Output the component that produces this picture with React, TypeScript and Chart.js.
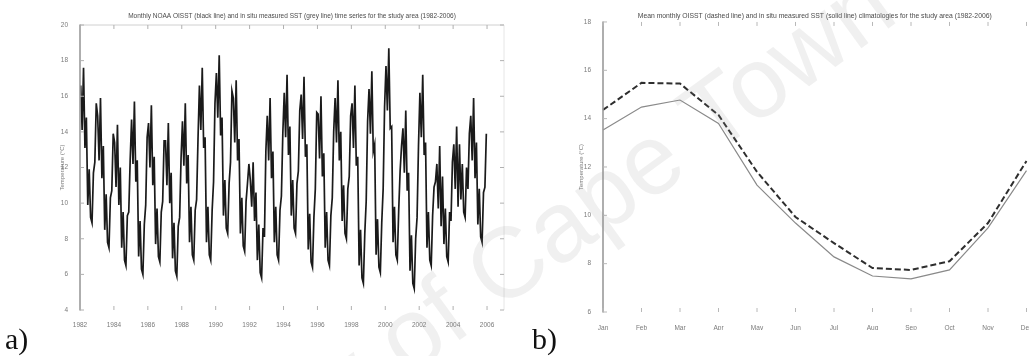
import React, { useEffect, useRef } from "react";
import { Chart, registerables } from "chart.js";
Chart.register(...registerables);

// ---------- DATA ----------
const seriesStartYear = 1982;
// Monthly SST (°C), Jan 1982 .. Dec 2005, one row per year
const oisstMonthly: number[] = [
  16.6, 14.1, 17.6, 13.1, 14.8, 9.9, 11.9, 9.2, 8.9, 11.7, 12.3, 15.6, // 1982
  14.9, 12.4, 15.9, 11.4, 13.2, 8.5, 10.5, 7.8, 7.5, 10.3, 10.7, 13.9, // 1983
  13.4, 10.9, 14.4, 9.9, 12.0, 7.5, 9.5, 6.8, 6.5, 9.3, 9.5, 12.4, // 1984
  14.7, 12.2, 15.7, 11.2, 12.4, 7.0, 9.0, 6.3, 6.0, 8.8, 9.9, 13.7, // 1985
  14.5, 12.0, 15.5, 11.0, 12.6, 7.7, 9.7, 7.0, 6.7, 9.5, 10.1, 13.5, // 1986
  13.5, 11.0, 14.5, 10.0, 11.7, 6.9, 8.9, 6.2, 5.9, 8.7, 9.2, 12.5, // 1987
  14.6, 12.1, 15.6, 11.1, 12.7, 7.8, 9.8, 7.1, 6.8, 9.6, 10.2, 13.6, // 1988
  16.6, 14.1, 17.6, 13.1, 13.7, 7.8, 9.8, 7.1, 6.8, 9.6, 11.2, 15.6, // 1989
  17.3, 14.8, 18.3, 13.8, 14.8, 9.3, 11.3, 8.6, 8.3, 11.1, 12.3, 16.3, // 1990
  15.9, 13.4, 16.9, 12.4, 13.6, 8.3, 10.3, 7.6, 7.3, 10.1, 11.1, 12.2, // 1991
  11.3, 9.8, 12.3, 9.0, 10.6, 6.8, 8.8, 6.1, 5.8, 8.6, 8.1, 12.9, // 1992
  14.9, 12.4, 15.9, 11.4, 12.9, 7.8, 9.8, 7.1, 6.8, 9.6, 10.4, 13.9, // 1993
  16.2, 13.7, 17.2, 12.7, 14.3, 9.3, 11.3, 8.6, 8.3, 11.1, 11.8, 15.2, // 1994
  16.1, 13.6, 17.1, 12.6, 13.3, 7.4, 9.4, 6.7, 6.4, 9.2, 10.8, 15.1, // 1995
  15.0, 12.5, 16.0, 11.5, 12.8, 7.5, 9.5, 6.8, 6.5, 9.3, 10.3, 14.0, // 1996
  15.9, 13.4, 16.9, 12.4, 14.0, 9.0, 11.0, 8.3, 8.0, 10.8, 11.5, 14.9, // 1997
  15.6, 13.1, 16.6, 12.1, 12.6, 6.5, 8.5, 5.8, 5.5, 8.3, 10.1, 14.6, // 1998
  16.4, 13.9, 17.4, 12.9, 13.3, 7.1, 9.1, 6.4, 6.1, 8.9, 10.8, 15.4, // 1999
  17.7, 15.2, 18.7, 14.2, 14.3, 7.8, 9.8, 7.1, 6.8, 9.6, 11.8, 13.2, // 2000
  14.2, 11.7, 15.2, 10.7, 11.7, 6.2, 8.2, 5.5, 5.2, 8.0, 9.2, 13.2, // 2001
  16.2, 13.7, 17.2, 12.7, 13.4, 7.5, 9.5, 6.8, 6.5, 9.3, 10.9, 11.2, // 2002
  12.2, 9.7, 13.2, 8.7, 11.5, 7.7, 9.7, 7.0, 6.7, 9.5, 9.0, 12.3, // 2003
  13.3, 10.8, 14.3, 9.8, 13.3, 10.2, 12.2, 9.5, 9.2, 12.0, 10.8, 13.9, // 2004
  14.9, 12.4, 15.9, 11.4, 13.4, 8.8, 10.8, 8.1, 7.8, 10.6, 10.9, 13.9, // 2005
];
const yearTicks = [1982, 1984, 1986, 1988, 1990, 1992, 1994, 1996, 1998, 2000, 2002, 2004, 2006];
const leftYTicks = [4, 6, 8, 10, 12, 14, 16, 18, 20];

const months = ["Jan", "Feb", "Mar", "Apr", "May", "Jun", "Jul", "Aug", "Sep", "Oct", "Nov", "Dec"];
const oisstClimatology = [14.36, 15.48, 15.45, 14.15, 11.8, 9.93, 8.85, 7.82, 7.74, 8.1, 9.68, 12.25];
const insituClimatology = [13.53, 14.48, 14.77, 13.8, 11.25, 9.68, 8.28, 7.49, 7.37, 7.74, 9.48, 11.85];
const rightYTicks = [6, 8, 10, 12, 14, 16, 18];

const leftTitle =
  "Monthly NOAA OISST (black line) and in situ measured SST (grey line) time series for the study area (1982-2006)";
const rightTitle =
  "Mean monthly OISST (dashed line) and in situ measured SST (solid line) climatologies for the study area (1982-2006)";
const yTitle = "Temperature (°C)";

// ---------- STYLE ----------
const FONT = "'Liberation Sans', Arial, sans-serif";
const TICK_COLOR = "#7a7a7a";

function makeBox(cfg: { left?: string; top?: string; right?: string; bottom?: string; tick: string; len: number; xTop: boolean; yRight: boolean }) {
  return {
    id: "matlabBox",
    afterDatasetsDraw(chart: any) {
      const { ctx, chartArea } = chart;
      const { left, right, top, bottom } = chartArea;
      const line = (x1: number, y1: number, x2: number, y2: number, color: string, w: number) => {
        ctx.strokeStyle = color;
        ctx.lineWidth = w;
        ctx.beginPath();
        ctx.moveTo(x1, y1);
        ctx.lineTo(x2, y2);
        ctx.stroke();
      };
      ctx.save();
      if (cfg.top) line(left, top, right, top, cfg.top, 1);
      if (cfg.right) line(right, top, right, bottom, cfg.right, 1);
      if (cfg.bottom) line(left, bottom, right, bottom, cfg.bottom, 1);
      if (cfg.left) line(left, top - 0.5, left, bottom + 0.5, cfg.left, 1.6);
      const xs = chart.scales.x;
      xs.ticks.forEach((_t: any, i: number) => {
        const px = xs.getPixelForTick(i);
        line(px, bottom, px, bottom - cfg.len, cfg.tick, 1);
        if (cfg.xTop) line(px, top, px, top + cfg.len, cfg.tick, 1);
      });
      const ys = chart.scales.y;
      ys.ticks.forEach((_t: any, i: number) => {
        const py = ys.getPixelForTick(i);
        line(left, py, left + cfg.len, py, cfg.tick, 1);
        if (cfg.yRight) line(right, py, right - cfg.len, py, cfg.tick, 1);
      });
      ctx.restore();
    },
  };
}

export default function App() {
  const leftRef = useRef<HTMLCanvasElement>(null);
  const rightRef = useRef<HTMLCanvasElement>(null);

  useEffect(() => {
    const points = oisstMonthly.map((v, i) => ({ x: seriesStartYear + (i + 0.5) / 12, y: v }));
    const c1 = new Chart(leftRef.current!, {
      type: "line",
      data: {
        datasets: [
          {
            data: points,
            borderColor: "#1a1a1a",
            borderWidth: 1.7,
            pointRadius: 0,
            tension: 0,
          },
        ],
      },
      options: {
        animation: false,
        responsive: false,
        devicePixelRatio: 1,
        layout: { padding: { left: 0, right: 16, top: 0, bottom: 0 } },
        plugins: {
          legend: { display: false },
          tooltip: { enabled: false },
          title: {
            display: true,
            text: leftTitle,
            fullSize: false,
            color: "#4a4a4a",
            font: { family: FONT, size: 6.5, weight: "normal" },
            padding: { top: 12, bottom: 5.2 },
          },
        },
        scales: {
          x: {
            type: "linear",
            min: 1982,
            max: 2007,
            grid: { display: false },
            border: { display: false },
            afterBuildTicks: (s: any) => {
              s.ticks = yearTicks.map((v) => ({ value: v }));
            },
            afterFit: (s: any) => {
              s.height = 20;
            },
            ticks: {
              color: TICK_COLOR,
              font: { family: FONT, size: 6.5 },
              padding: 3,
              maxRotation: 0,
              autoSkip: false,
              callback: (v: any) => String(v),
            },
          },
          y: {
            type: "linear",
            min: 4,
            max: 20,
            grid: { display: false },
            border: { display: false },
            afterBuildTicks: (s: any) => {
              s.ticks = leftYTicks.map((v) => ({ value: v }));
            },
            afterFit: (s: any) => {
              s.width = 80;
            },
            title: {
              display: true,
              text: yTitle,
              color: TICK_COLOR,
              font: { family: FONT, size: 6 },
              padding: { top: 59, bottom: 0 },
            },
            ticks: {
              color: TICK_COLOR,
              font: { family: FONT, size: 6.5 },
              padding: 4,
              callback: (v: any) => String(v),
            },
          },
        },
      },
      plugins: [makeBox({ left: "#9a9a9a", top: "#d0d0d0", right: "#e6e6e6", tick: "#b0b0b0", len: 4, xTop: true, yRight: true })],
    } as any);

    const c2 = new Chart(rightRef.current!, {
      type: "line",
      data: {
        labels: months,
        datasets: [
          {
            data: oisstClimatology,
            borderColor: "#2e2e2e",
            borderWidth: 2,
            borderDash: [6, 3],
            pointRadius: 0,
            tension: 0,
          },
          {
            data: insituClimatology,
            borderColor: "#8a8a8a",
            borderWidth: 1.2,
            pointRadius: 0,
            tension: 0,
          },
        ],
      },
      options: {
        animation: false,
        responsive: false,
        devicePixelRatio: 1,
        layout: { padding: { left: 0, right: 33.5, top: 0, bottom: 0 } },
        plugins: {
          legend: { display: false },
          tooltip: { enabled: false },
          title: {
            display: true,
            text: rightTitle,
            fullSize: false,
            color: "#4a4a4a",
            font: { family: FONT, size: 6.8, weight: "normal" },
            padding: { top: 12, bottom: 1.8 },
          },
        },
        scales: {
          x: {
            type: "category",
            offset: false,
            grid: { display: false },
            border: { display: false },
            afterFit: (s: any) => {
              s.height = 18;
            },
            ticks: {
              color: TICK_COLOR,
              font: { family: FONT, size: 6.5 },
              padding: 4.5,
              maxRotation: 0,
              autoSkip: false,
            },
          },
          y: {
            type: "linear",
            min: 6,
            max: 18,
            grid: { display: false },
            border: { display: false },
            afterBuildTicks: (s: any) => {
              s.ticks = rightYTicks.map((v) => ({ value: v }));
            },
            afterFit: (s: any) => {
              s.width = 83;
            },
            title: {
              display: true,
              text: yTitle,
              color: TICK_COLOR,
              font: { family: FONT, size: 6 },
              padding: { top: 58, bottom: 0 },
            },
            ticks: {
              color: TICK_COLOR,
              font: { family: FONT, size: 6.5 },
              padding: 4,
              callback: (v: any) => String(v),
            },
          },
        },
      },
      plugins: [makeBox({ left: "#9a9a9a", tick: "#b8b8b8", len: 4, xTop: true, yRight: false })],
    } as any);

    return () => {
      c1.destroy();
      c2.destroy();
    };
  }, []);

  const panelLabel: React.CSSProperties = {
    position: "absolute",
    top: 323,
    fontFamily: "'Liberation Serif', 'DejaVu Serif', serif",
    fontSize: 30,
    lineHeight: "32px",
    color: "#111",
  };

  return (
    <div
      style={{
        position: "absolute",
        left: 0,
        top: 0,
        width: 1029,
        height: 356,
        overflow: "hidden",
        background: "#fff",
      }}
    >
      <canvas ref={leftRef} width={520} height={330} style={{ position: "absolute", left: 0, top: 0 }} />
      <canvas ref={rightRef} width={540} height={330} style={{ position: "absolute", left: 520, top: 0 }} />
      <div style={{ ...panelLabel, left: 5 }}>a)</div>
      <div style={{ ...panelLabel, left: 532 }}>b)</div>
      <div
        style={{
          position: "absolute",
          left: 445,
          top: 308,
          transform: "translate(-50%, -50%) rotate(-36deg)",
          fontFamily: FONT,
          fontSize: 100,
          whiteSpace: "nowrap",
          color: "rgba(150,150,150,0.14)",
          pointerEvents: "none",
        }}
      >
        University of Cape Town
      </div>
    </div>
  );
}
